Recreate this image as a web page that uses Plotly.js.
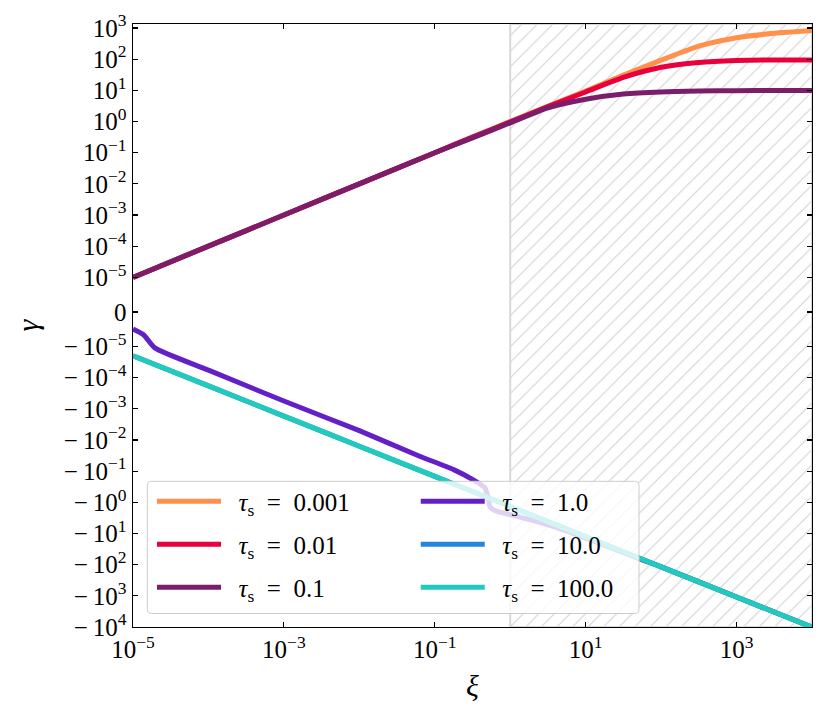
<!DOCTYPE html>
<html><head><meta charset="utf-8">
<script src="https://cdn.plot.ly/plotly-3.0.1.min.js"></script>
<style>html,body{margin:0;padding:0;background:#fff;} #chart{width:830px;height:712px;}</style>
</head><body><div id="chart"></div>
<script>
// ---- symlog scale (matplotlib default: linthresh 1e-5, linscale 1, base 10) ----
const LINTHRESH = 1e-5;
const LINSCALE = 1 / (1 - 1 / 10);
function symlog(v) {
  const a = Math.abs(v);
  if (a <= LINTHRESH) return v / LINTHRESH * LINSCALE;
  return Math.sign(v) * (LINSCALE + Math.log10(a / LINTHRESH));
}

// ---- data ----
const seriesNames = ['0.001', '0.01', '0.1', '1.0', '10.0', '100.0'];
const seriesColors = ['#ff914d', '#e8003d', '#7c1d6b', '#6420c8', '#2585dc', '#22c9bd'];

const xiPos = [1e-5, 1e-4, 1e-3, 1e-2, 1e-1, 0.316, 1, 3.16, 10, 31.6, 100, 316, 1000, 3162, 1e4];
const gamma_0_001 = [1e-5, 1e-4, 1e-3, 1e-2, 0.1, 0.316, 1.0, 3.09, 9.55, 30.9, 93, 263, 490, 676, 832];
const gamma_0_01  = [1e-5, 1e-4, 1e-3, 1e-2, 0.1, 0.316, 0.98, 3.0, 8.9, 26, 55, 79, 91, 95, 95];
const gamma_0_1   = [1e-5, 1e-4, 1e-3, 1e-2, 0.1, 0.30, 0.91, 2.75, 5.2, 7.6, 8.9, 9.5, 9.8, 9.9, 10];

const xi_1_0 = [1e-5, 1.38e-5, 1.95e-5, 1e-4, 1e-3, 1e-2, 0.063, 0.178, 0.324, 0.417, 0.463, 0.49, 0.513, 0.54, 0.66, 1, 3.7, 19, 52, 100, 1000, 1e4];
const gamma_1_0 = [-4.9e-6, -6.6e-6, -1.1e-5, -5.7e-5, -5.6e-4, -5.0e-3, -0.033, -0.089, -0.19, -0.28, -0.34, -0.5, -0.72, -1.4, -1.94, -2.47, -5.9, -25, -65, -117, -1090, -1.01e4];

const xiNeg = [1e-5, 1e-4, 1e-3, 1e-2, 1e-1, 1, 10, 100, 1000, 1e4];
const gamma_10_0  = [-1.97e-5, -1.83e-4, -1.70e-3, -1.58e-2, -0.147, -1.36, -12.6, -117, -1090, -1.01e4];
const gamma_100_0 = [-1.97e-5, -1.83e-4, -1.70e-3, -1.58e-2, -0.147, -1.36, -12.6, -117, -1090, -1.01e4];

const hatchStart = 1;       // shaded region begins at xi = 1
const xRangeLog = [-5, 4];
const yLimits = [-1e4, 1350];

const xTickVals = [1e-5, 1e-3, 1e-1, 10, 1000];
const xTickText = ['10<sup>−5</sup>', '10<sup>−3</sup>', '10<sup>−1</sup>', '10<sup>1</sup>', '10<sup>3</sup>'];
const yTickVals = [1e3, 1e2, 1e1, 1e0, 1e-1, 1e-2, 1e-3, 1e-4, 1e-5, 0, -1e-5, -1e-4, -1e-3, -1e-2, -1e-1, -1e0, -1e1, -1e2, -1e3, -1e4];
const yTickText = ['10<sup>3</sup>', '10<sup>2</sup>', '10<sup>1</sup>', '10<sup>0</sup>', '10<sup>−1</sup>', '10<sup>−2</sup>', '10<sup>−3</sup>', '10<sup>−4</sup>', '10<sup>−5</sup>', '0',
  '−\u200910<sup>−5</sup>', '−\u200910<sup>−4</sup>', '−\u200910<sup>−3</sup>', '−\u200910<sup>−2</sup>', '−\u200910<sup>−1</sup>', '−\u200910<sup>0</sup>', '−\u200910<sup>1</sup>', '−\u200910<sup>2</sup>', '−\u200910<sup>3</sup>', '−\u200910<sup>4</sup>'];

// ---- build traces ----
const yr = [symlog(yLimits[0]), symlog(yLimits[1])];
const xMax = Math.pow(10, xRangeLog[1]);

const hatch = {
  x: [hatchStart, xMax, xMax, hatchStart, hatchStart],
  y: [yr[1], yr[1], yr[0], yr[0], yr[1]],
  mode: 'lines', fill: 'toself',
  fillcolor: 'rgba(255,255,255,0)',
  fillpattern: {shape: '/', size: 11, solidity: 0.1, fgcolor: '#d2d2d2', bgcolor: 'rgba(255,255,255,0)', fillmode: 'replace'},
  line: {color: '#d8d8d8', width: 2},
  showlegend: false, hoverinfo: 'skip'
};

const seriesX = [xiPos, xiPos, xiPos, xi_1_0, xiNeg, xiNeg];
const seriesY = [gamma_0_001, gamma_0_01, gamma_0_1, gamma_1_0, gamma_10_0, gamma_100_0];
const legendOf = ['legend', 'legend', 'legend', 'legend2', 'legend2', 'legend2'];
const NB = '\u00a0';

const traces = [hatch];
for (let i = 0; i < seriesNames.length; i++) {
  traces.push({
    x: seriesX[i],
    y: seriesY[i].map(symlog),
    mode: 'lines',
    line: {color: seriesColors[i], width: 5, shape: 'spline', smoothing: 0.6},
    name: NB + NB + '<i>τ</i><sub>s</sub> ' + NB + '= ' + NB + seriesNames[i],
    legend: legendOf[i],
    legendgroup: 'g' + i
  });
}

const axisCommon = {
  ticks: 'inside', ticklen: 5, tickwidth: 1.2, tickcolor: 'black',
  showline: true, linecolor: 'black', linewidth: 1.4, mirror: 'ticks',
  showgrid: false, zeroline: false, automargin: false,
  tickfont: {family: 'Liberation Serif, serif', size: 25, color: 'black'}
};

const legendCommon = {
  orientation: 'v', yanchor: 'top', xanchor: 'left', y: 0.2464,
  bgcolor: 'rgba(0,0,0,0)', borderwidth: 0,
  font: {family: 'Liberation Serif, serif', size: 25, color: 'black'},
  itemwidth: 64, traceorder: 'grouped', tracegroupgap: 7.5
};

// rounded legend frame (paper coordinates)
const fx0 = 0.0211, fx1 = 0.7452, fy0 = 0.0224, fy1 = 0.2416, rx = 0.0065, ry = 0.0073;
const framePath = `M${fx0 + rx},${fy0} L${fx1 - rx},${fy0} Q${fx1},${fy0} ${fx1},${fy0 + ry} L${fx1},${fy1 - ry} Q${fx1},${fy1} ${fx1 - rx},${fy1} L${fx0 + rx},${fy1} Q${fx0},${fy1} ${fx0},${fy1 - ry} L${fx0},${fy0 + ry} Q${fx0},${fy0} ${fx0 + rx},${fy0} Z`;

const layout = {
  width: 830, height: 712,
  margin: {l: 133, r: 18, t: 24, b: 84.5},
  paper_bgcolor: 'white', plot_bgcolor: 'white',
  font: {family: 'Liberation Serif, serif', size: 25, color: 'black'},
  xaxis: Object.assign({}, axisCommon, {
    type: 'log', range: xRangeLog, tickmode: 'array', tickvals: xTickVals, ticktext: xTickText,
    title: {text: '<i>ξ</i>', font: {family: 'Liberation Serif, serif', size: 30}, standoff: 12}
  }),
  yaxis: Object.assign({}, axisCommon, {
    range: yr, tickmode: 'array', tickvals: yTickVals.map(symlog), ticktext: yTickText,
    title: {text: '<i>γ</i>', font: {family: 'Liberation Serif, serif', size: 30}, standoff: 16}
  }),
  showlegend: true,
  legend: Object.assign({}, legendCommon, {x: 0.028}),
  legend2: Object.assign({}, legendCommon, {x: 0.4164}),
  shapes: [{
    type: 'path', xref: 'paper', yref: 'paper', path: framePath,
    fillcolor: 'rgba(255,255,255,0.8)', line: {color: '#cccccc', width: 1}, layer: 'above'
  }]
};

Plotly.newPlot('chart', traces, layout, {displayModeBar: false, staticPlot: true});
</script>
</body></html>
